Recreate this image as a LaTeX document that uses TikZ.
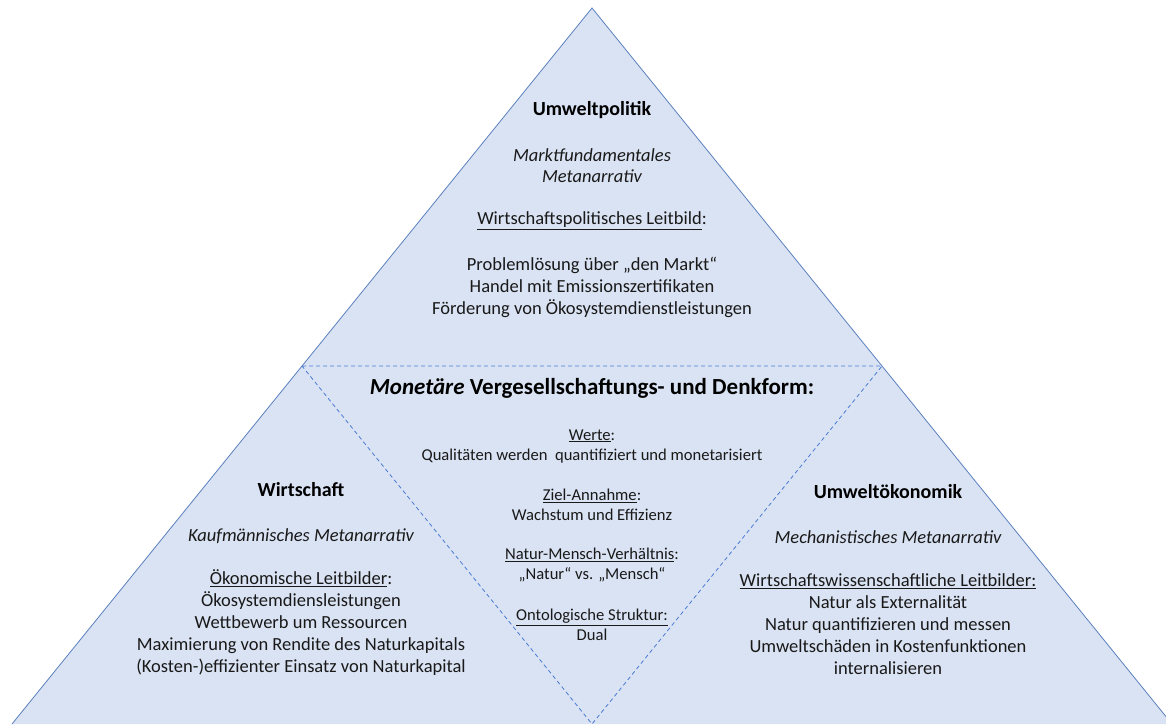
\documentclass[tikz,border=0pt]{standalone}
\usepackage{fontspec}
\setmainfont{Carlito}
\usetikzlibrary{calc}
\tikzset{
  txt/.style={align=center, inner sep=0pt, text=black!90, font=\fontsize{18.5}{22}\selectfont},
  italictxt/.style={txt, font=\itshape\fontsize{18.5}{21.5}\selectfont},
  small/.style={align=center, inner sep=0pt, text=black!90, font=\fontsize{16.6}{20}\selectfont},
  head/.style={inner sep=0pt, font=\bfseries\fontsize{20}{24}\selectfont},
  bigtitle/.style={inner sep=0pt, font=\bfseries\fontsize{23}{26}\selectfont},
  divider/.style={line width=0.8pt, dash pattern=on 4pt off 3pt}
}
\begin{document}
\begin{tikzpicture}[x=1pt, y=-1pt]
\definecolor{fillcol}{HTML}{DAE3F3}
\definecolor{edgecol}{HTML}{5B80BE}
\definecolor{dashcol}{HTML}{4A7BD6}
\useasboundingbox (0,0) rectangle (1166,724);
\clip (0,0) rectangle (1166,724);
\coordinate (apex) at (592,8);
\coordinate (left) at (12,724);
\coordinate (right) at (1172,724);
\coordinate (midleft) at ($(apex)!0.5!(left)$);
\coordinate (midright) at ($(apex)!0.5!(right)$);
\coordinate (midbase) at ($(left)!0.5!(right)$);
\fill[fillcol] (apex) -- (left) -- (right) -- cycle;
\draw[edgecol, line width=0.8pt] (left) -- (apex) -- (right);
\draw[divider, draw=dashcol] (midleft) -- (midright) -- (midbase) -- cycle;
\node[head] (politik) at (592,110) {Umweltpolitik};
\node[italictxt] (politiknarrativ) at (592,165.5) {Marktfundamentales\\Metanarrativ};
\node[txt] (politikleitbild) at (592,221) {\underline{Wirtschaftspolitisches Leitbild}:};
\node[txt] (politikliste) at (592,287.5) {Problemlösung über „den Markt“\\Handel mit Emissionszertifikaten\\Förderung von Ökosystemdienstleistungen};
\node[bigtitle] (denkform) at (592,388) {\textit{Monetäre} Vergesellschaftungs- und Denkform:};
\node[small] (werte) at (592,446) {\underline{Werte}:\\Qualitäten werden\ \ quantifiziert und monetarisiert};
\node[small] (ziel) at (592,505) {\underline{Ziel-Annahme}:\\Wachstum und Effizienz};
\node[small] (verhaeltnis) at (592,565) {\underline{Natur-Mensch-Verhältnis}:\\„Natur“ vs. „Mensch“};
\node[small] (struktur) at (592,625) {\underline{Ontologische Struktur:}\\Dual};
\node[head] (wirtschaft) at (301,490) {Wirtschaft};
\node[italictxt] (wirtschaftnarrativ) at (301,536) {Kaufmännisches Metanarrativ};
\node[txt] (wirtschaftliste) at (301,623) {\underline{Ökonomische Leitbilder}:\\Ökosystemdiensleistungen\\Wettbewerb um Ressourcen\\Maximierung von Rendite des Naturkapitals\\(Kosten-)effizienter Einsatz von Naturkapital};
\node[head] (oekonomik) at (888,492) {Umweltökonomik};
\node[italictxt] (oekonomiknarrativ) at (888,537) {Mechanistisches Metanarrativ};
\node[txt] (oekonomikliste) at (888,624.5) {\underline{Wirtschaftswissenschaftliche Leitbilder:}\\Natur als Externalität\\Natur quantifizieren und messen\\Umweltschäden in Kostenfunktionen\\internalisieren};
\end{tikzpicture}
\end{document}
